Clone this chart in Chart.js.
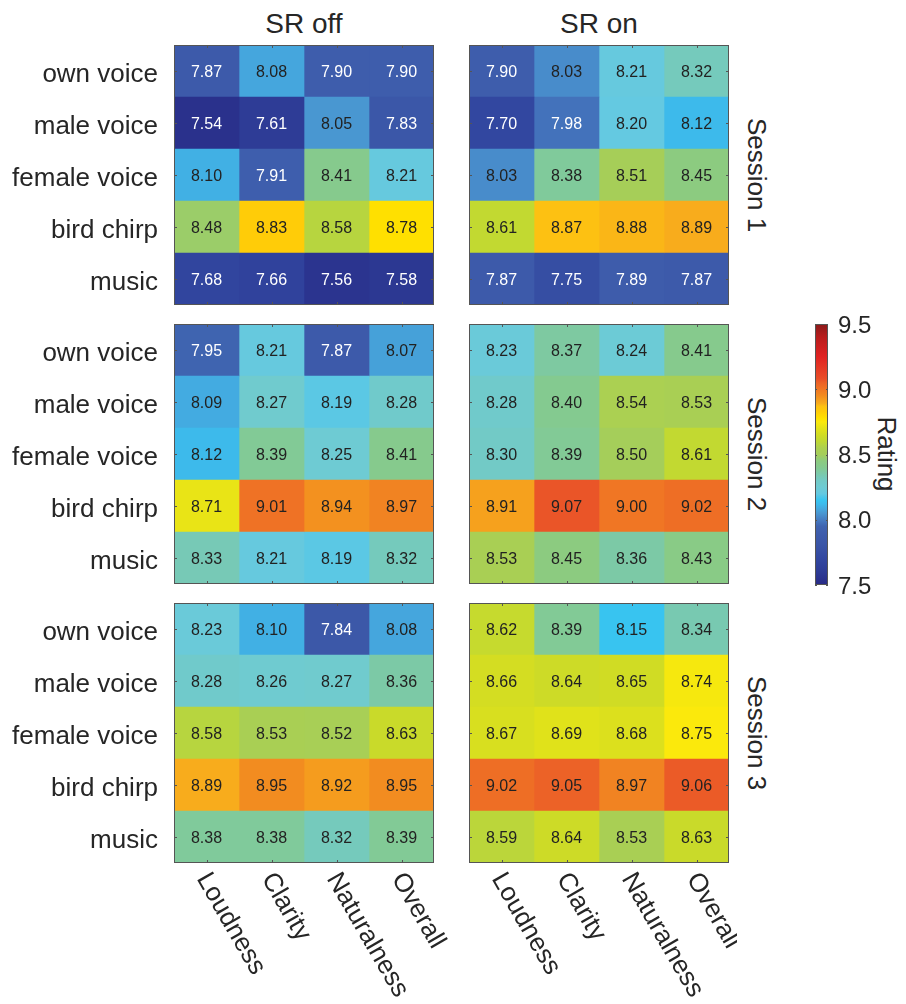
<!DOCTYPE html>
<html>
<head>
<meta charset="utf-8">
<script src="https://cdn.jsdelivr.net/npm/chart.js@4/dist/chart.umd.min.js"></script>
<style>
  body { margin: 0; background: #fff; width: 906px; height: 1004px; overflow: hidden; position: relative;
         font-family: "Liberation Sans", Arial, sans-serif; color: #262626; }
  canvas { position: absolute; }
  .lbl { position: absolute; white-space: nowrap; font-size: 26px; line-height: 30px; }
  .title { font-size: 28px; line-height: 34px; text-align: center; width: 260px; }
  .rot { transform: translate(-50%, -50%) rotate(90deg); }
</style>
</head>
<body>
<div class="lbl title" style="left:174px; top:7px;">SR off</div>
<div class="lbl title" style="left:469px; top:7px;">SR on</div>
<div class="lbl rot" style="left:757px; top:175px;">Session 1</div>
<div class="lbl rot" style="left:757px; top:454px;">Session 2</div>
<div class="lbl rot" style="left:757px; top:733px;">Session 3</div>
<div class="lbl rot" style="left:887px; top:454px;">Rating</div>

<canvas id="s1off" width="460" height="272" style="left:0px; top:39px;"></canvas>
<canvas id="s1on" width="276" height="272" style="left:461px; top:39px;"></canvas>
<canvas id="s2off" width="460" height="272" style="left:0px; top:318px;"></canvas>
<canvas id="s2on" width="276" height="272" style="left:461px; top:318px;"></canvas>
<canvas id="s3off" width="460" height="407" style="left:0px; top:597px;"></canvas>
<canvas id="s3on" width="276" height="407" style="left:461px; top:597px;"></canvas>
<canvas id="cbar" width="106" height="290" style="left:800px; top:310px;"></canvas>

<script>
const rowNames = ["own voice", "male voice", "female voice", "bird chirp", "music"];
const colNames = ["Loudness", "Clarity", "Naturalness", "Overall"];

// rows = rowNames, columns = colNames
const s1Off = [
    [7.87, 8.08, 7.90, 7.90],
    [7.54, 7.61, 8.05, 7.83],
    [8.10, 7.91, 8.41, 8.21],
    [8.48, 8.83, 8.58, 8.78],
    [7.68, 7.66, 7.56, 7.58]
];
const s1On = [
    [7.90, 8.03, 8.21, 8.32],
    [7.70, 7.98, 8.20, 8.12],
    [8.03, 8.38, 8.51, 8.45],
    [8.61, 8.87, 8.88, 8.89],
    [7.87, 7.75, 7.89, 7.87]
];
const s2Off = [
    [7.95, 8.21, 7.87, 8.07],
    [8.09, 8.27, 8.19, 8.28],
    [8.12, 8.39, 8.25, 8.41],
    [8.71, 9.01, 8.94, 8.97],
    [8.33, 8.21, 8.19, 8.32]
];
const s2On = [
    [8.23, 8.37, 8.24, 8.41],
    [8.28, 8.40, 8.54, 8.53],
    [8.30, 8.39, 8.50, 8.61],
    [8.91, 9.07, 9.00, 9.02],
    [8.53, 8.45, 8.36, 8.43]
];
const s3Off = [
    [8.23, 8.10, 7.84, 8.08],
    [8.28, 8.26, 8.27, 8.36],
    [8.58, 8.53, 8.52, 8.63],
    [8.89, 8.95, 8.92, 8.95],
    [8.38, 8.38, 8.32, 8.39]
];
const s3On = [
    [8.62, 8.39, 8.15, 8.34],
    [8.66, 8.64, 8.65, 8.74],
    [8.67, 8.69, 8.68, 8.75],
    [9.02, 9.05, 8.97, 9.06],
    [8.59, 8.64, 8.53, 8.63]
];

const ratingMin = 7.5;
const ratingMax = 9.5;
const ratingTicks = [7.5, 8.0, 8.5, 9.0, 9.5];

// colour map (value -> colour), picked off the figure
const cmapVals = [7.50, 7.60, 7.70, 7.80, 7.90, 7.95, 8.00, 8.05, 8.08, 8.12, 8.15, 8.20, 8.25, 8.30, 8.35, 8.40,
                  8.45, 8.50, 8.55, 8.60, 8.65, 8.70, 8.75, 8.78, 8.83, 8.87, 8.89, 8.95, 9.00, 9.05, 9.08, 9.25, 9.40, 9.50];
const cmapCols = ["#282a86", "#2d3b95", "#3247a0", "#3a54a6", "#3e5dac", "#3f64b0", "#467cc2", "#4997d1", "#45a6dd",
                  "#3dbaeb", "#38c4f0", "#64c9e1", "#6ecbd3", "#72cac6", "#7ac9ac", "#84ca90", "#8ccb80", "#a5ce5a",
                  "#acd050", "#bfd834", "#d0dc24", "#e4e318", "#fbe90c", "#ffe000", "#ffcc08", "#fdc112", "#f8ac1c",
                  "#f28c20", "#f07624", "#ec6227", "#e94e28", "#e02222", "#b81c1c", "#8a1a1a"];

const FONT = '"Liberation Sans", Arial, sans-serif';

function hexToRgb(h) {
    return [parseInt(h.slice(1, 3), 16), parseInt(h.slice(3, 5), 16), parseInt(h.slice(5, 7), 16)];
}

function colorFor(v) {
    if (v <= cmapVals[0]) return cmapCols[0];
    for (let i = 1; i < cmapVals.length; i++) {
        if (v <= cmapVals[i]) {
            const t = (v - cmapVals[i - 1]) / (cmapVals[i] - cmapVals[i - 1]);
            const a = hexToRgb(cmapCols[i - 1]), b = hexToRgb(cmapCols[i]);
            const c = a.map((x, k) => Math.round(x + (b[k] - x) * t));
            return `rgb(${c[0]},${c[1]},${c[2]})`;
        }
    }
    return cmapCols[cmapCols.length - 1];
}

function drawFrame(ctx, area) {
    ctx.save();
    ctx.strokeStyle = '#555555';
    ctx.lineWidth = 1;
    ctx.strokeRect(area.left + 0.5, area.top + 0.5, area.right - area.left - 1, area.bottom - area.top - 1);
    ctx.restore();
}

// values inside cells, box, inward ticks and rotated column labels
const heatPlugin = {
    id: 'heat',
    afterDatasetsDraw(chart, args, opts) {
        const ctx = chart.ctx;
        const area = chart.chartArea;
        const xs = chart.scales.x, ys = chart.scales.y;
        const values = opts.values;

        ctx.save();
        ctx.font = '16px ' + FONT;
        ctx.textAlign = 'center';
        ctx.textBaseline = 'middle';
        values.forEach((row, r) => {
            row.forEach((v, c) => {
                ctx.fillStyle = v < 8.0 ? '#ffffff' : '#222222';
                ctx.fillText(v.toFixed(2), xs.getPixelForValue(c + 0.5), ys.getPixelForValue(r) + 2);
            });
        });
        ctx.restore();

        drawFrame(ctx, area);

        ctx.save();
        ctx.strokeStyle = '#555555';
        ctx.lineWidth = 1;
        ctx.beginPath();
        rowNames.forEach((n, r) => {
            const y = Math.round(ys.getPixelForValue(r)) + 0.5;
            ctx.moveTo(area.left, y); ctx.lineTo(area.left + 3, y);
            ctx.moveTo(area.right, y); ctx.lineTo(area.right - 3, y);
        });
        colNames.forEach((n, c) => {
            const x = Math.round(xs.getPixelForValue(c + 0.5)) + 0.5;
            ctx.moveTo(x, area.top); ctx.lineTo(x, area.top + 3);
            ctx.moveTo(x, area.bottom); ctx.lineTo(x, area.bottom - 3);
        });
        ctx.stroke();
        ctx.restore();

        if (opts.colLabels) {
            ctx.save();
            ctx.font = '26px ' + FONT;
            ctx.fillStyle = '#262626';
            ctx.textAlign = 'left';
            ctx.textBaseline = 'middle';
            colNames.forEach((n, c) => {
                ctx.save();
                ctx.translate(xs.getPixelForValue(c + 0.5) - 4, area.bottom + 12);
                ctx.rotate(Math.PI / 3);
                ctx.fillText(n, 0, 0);
                ctx.restore();
            });
            ctx.restore();
        }
    }
};

function makePanel(id, values, showRows, colLabels) {
    const bottomPad = colLabels ? 141 : 6;
    return new Chart(document.getElementById(id), {
        type: 'bar',
        data: {
            labels: rowNames,
            datasets: colNames.map((name, c) => ({
                label: name,
                data: values.map(() => [c, c + 1]),
                backgroundColor: values.map(row => colorFor(row[c])),
                borderWidth: 0,
                grouped: false,
                barPercentage: 1,
                categoryPercentage: 1
            }))
        },
        options: {
            indexAxis: 'y',
            responsive: false,
            animation: false,
            devicePixelRatio: 1,
            layout: {
                padding: showRows ? { left: 0, right: 26, top: 6, bottom: bottomPad }
                                  : { left: 8, right: 8, top: 6, bottom: bottomPad }
            },
            scales: {
                x: { type: 'linear', min: 0, max: 4, display: false },
                y: {
                    type: 'category',
                    display: showRows,
                    grid: { display: false, drawTicks: false },
                    border: { display: false },
                    ticks: { font: { size: 26, family: FONT }, color: '#262626', padding: 16, labelOffset: 4 },
                    afterFit: scale => {
                        if (!showRows) return;
                        scale.width = 174;
                        scale.paddingTop = 0;
                        scale.paddingBottom = 0;
                    }
                }
            },
            plugins: {
                legend: { display: false },
                tooltip: {
                    callbacks: {
                        label: context => context.dataset.label + ": " + values[context.dataIndex][context.datasetIndex].toFixed(2)
                    }
                },
                heat: { values: values, colLabels: colLabels }
            }
        },
        plugins: [heatPlugin]
    });
}

makePanel('s1off', s1Off, true, false);
makePanel('s1on', s1On, false, false);
makePanel('s2off', s2Off, true, false);
makePanel('s2on', s2On, false, false);
makePanel('s3off', s3Off, true, true);
makePanel('s3on', s3On, false, true);

// colour bar
const cbarPlugin = {
    id: 'cbarFrame',
    afterDatasetsDraw(chart) {
        const ctx = chart.ctx, area = chart.chartArea, ys = chart.scales.y;
        drawFrame(ctx, area);
        ctx.save();
        ctx.strokeStyle = '#555555';
        ctx.beginPath();
        ratingTicks.forEach(t => {
            const y = Math.round(ys.getPixelForValue(t)) + 0.5;
            ctx.moveTo(area.left, y); ctx.lineTo(area.left + 2, y);
            ctx.moveTo(area.right, y); ctx.lineTo(area.right - 2, y);
        });
        ctx.stroke();
        ctx.restore();
    }
};

new Chart(document.getElementById('cbar'), {
    type: 'bar',
    data: {
        labels: ['Rating'],
        datasets: [{
            data: [[ratingMin, ratingMax]],
            backgroundColor: context => {
                const chart = context.chart;
                if (!chart.chartArea) return cmapCols[0];
                const ys = chart.scales.y;
                const g = chart.ctx.createLinearGradient(0, ys.getPixelForValue(ratingMin), 0, ys.getPixelForValue(ratingMax));
                cmapVals.forEach((v, i) => g.addColorStop((v - ratingMin) / (ratingMax - ratingMin), cmapCols[i]));
                return g;
            },
            borderWidth: 0,
            barPercentage: 1,
            categoryPercentage: 1
        }]
    },
    options: {
        responsive: false,
        animation: false,
        devicePixelRatio: 1,
        layout: { padding: { left: 15, right: 0, top: 14, bottom: 15 } },
        scales: {
            x: { display: false },
            y: {
                position: 'right',
                min: ratingMin,
                max: ratingMax,
                grid: { display: false, drawTicks: false },
                border: { display: false },
                afterBuildTicks: scale => { scale.ticks = ratingTicks.map(v => ({ value: v })); },
                ticks: {
                    font: { size: 24, family: FONT },
                    color: '#262626',
                    padding: 10,
                    labelOffset: 2,
                    callback: v => Number(v).toFixed(1)
                },
                afterFit: scale => {
                    scale.width = 78;
                    scale.paddingTop = 0;
                    scale.paddingBottom = 0;
                }
            }
        },
        plugins: { legend: { display: false }, tooltip: { enabled: false } }
    },
    plugins: [cbarPlugin]
});
</script>
</body>
</html>
